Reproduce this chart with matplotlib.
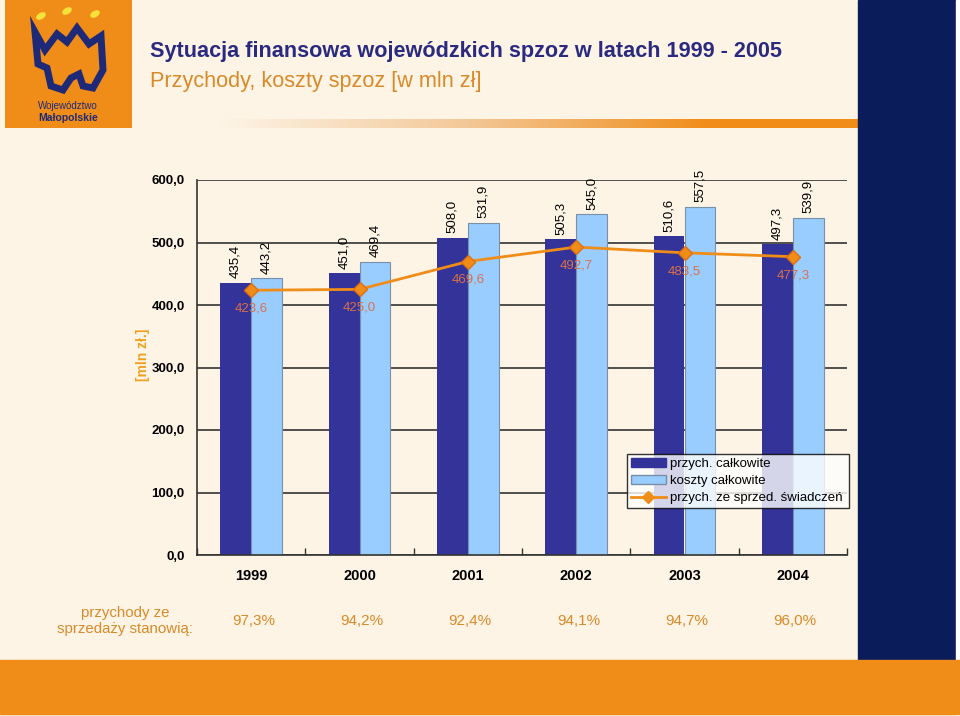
import matplotlib.pyplot as plt
import matplotlib.patches as patches
import numpy as np
from matplotlib.lines import Line2D
from matplotlib.colors import LinearSegmentedColormap

plt.rcParams['font.family'] = ['Liberation Sans', 'DejaVu Sans']

years = ['1999', '2000', '2001', '2002', '2003', '2004']
przych_calk = [435.4, 451.0, 508.0, 505.3, 510.6, 497.3]
koszty_calk = [443.2, 469.4, 531.9, 545.0, 557.5, 539.9]
przych_sprzed = [423.6, 425.0, 469.6, 492.7, 483.5, 477.3]
udzial = ['97,3%', '94,2%', '92,4%', '94,1%', '94,7%', '96,0%']

cream = '#FDF4E6'
navy = '#0A1C5A'
orange = '#F08C18'
txt_orange = '#D98A28'

fig = plt.figure(figsize=(9.6, 7.16), dpi=100)
fig.patch.set_facecolor(cream)

# decorations: navy stripe, bottom band, gradient line, logo
fig.patches.append(patches.Rectangle((858/960, 1-660/716), 98/960, 660/716,
                   transform=fig.transFigure, color=navy, zorder=0))
fig.patches.append(patches.Rectangle((956/960, 0), 4/960, 1,
                   transform=fig.transFigure, color='white', zorder=0))
fig.patches.append(patches.Rectangle((0, 2/716), 1, 54/716,
                   transform=fig.transFigure, color=orange, zorder=1))
grad_ax = fig.add_axes([220/960, 1-128/716, 736/960, 9/716])
grad = np.linspace(0, 1, 256).reshape(1, -1)
cm = LinearSegmentedColormap.from_list('g', [cream, '#F3C898', orange, orange])
grad_ax.imshow(grad, aspect='auto', cmap=cm)
grad_ax.axis('off')

logo = fig.add_axes([5/960, 1-128/716, 127/960, 128/716])
logo.set_xlim(0, 127)
logo.set_ylim(0, 128)
logo.axis('off')
logo.add_patch(patches.Rectangle((0, 0), 127, 128, color=orange))
crown_x = [30, 40, 52, 62, 72, 84, 96, 98, 88, 78, 74, 66, 58, 46, 42, 33]
crown_y = [96, 78, 94, 86, 100, 84, 92, 58, 40, 42, 54, 50, 38, 42, 60, 64]
logo.add_patch(patches.Polygon(list(zip(crown_x, crown_y)), closed=True,
                               fill=False, ec='#1E2A78', lw=5))
for dx, dy in [(36, 112), (62, 117), (90, 114)]:
    logo.add_patch(patches.Ellipse((dx, dy), 9, 5, angle=30, color='#F6E23A'))
logo.text(63, 22, 'Województwo', ha='center', va='center', fontsize=7, color='#1E2A78')
logo.text(63, 10, 'Małopolskie', ha='center', va='center', fontsize=7.5,
          color='#1E2A78', fontweight='bold')

fig.text(150/960, 1-52/716, 'Sytuacja finansowa wojewódzkich spzoz w latach 1999 - 2005',
         fontsize=15.6, fontweight='bold', color='#2A2A80', va='center')
fig.text(150/960, 1-82/716, 'Przychody, koszty spzoz [w mln zł]',
         fontsize=15.6, color=txt_orange, va='center')

# main chart
ax = fig.add_axes([197/960, 1-555/716, 650/960, 375/716])
ax.set_facecolor(cream)
x = np.arange(len(years))
w = 0.286
ax.bar(x - w/2, przych_calk, w, color='#333399', zorder=2)
ax.bar(x + w/2, koszty_calk, w, color='#99CCFF', edgecolor='#7A8FA8', lw=0.8, zorder=2)
ax.plot(x, przych_sprzed, color=orange, lw=2, marker='D', markersize=7,
        markerfacecolor=orange, markeredgecolor='#E07010', zorder=3)

for i in range(len(years)):
    ax.text(x[i] - w/2, przych_calk[i] + 7, f'{przych_calk[i]:.1f}'.replace('.', ','),
            rotation=90, ha='center', va='bottom', fontsize=9.5)
    ax.text(x[i] + w/2, koszty_calk[i] + 7, f'{koszty_calk[i]:.1f}'.replace('.', ','),
            rotation=90, ha='center', va='bottom', fontsize=9.5)
    ax.text(x[i], przych_sprzed[i] - 20, f'{przych_sprzed[i]:.1f}'.replace('.', ','),
            ha='center', va='top', fontsize=9.5, color='#D9704A', zorder=4)

ax.set_ylim(0, 600)
ax.set_xlim(-0.5, 5.5)
ax.set_yticks(range(0, 601, 100))
ax.set_yticklabels([f'{v},0' for v in range(0, 601, 100)], fontsize=9.5, fontweight='bold')
ax.yaxis.grid(True, color='#333333', lw=1.2, zorder=0)
ax.set_axisbelow(True)
ax.set_xticks(np.arange(-0.5, 6, 1))
ax.set_xticklabels([])
ax.tick_params(axis='x', direction='in', length=5, width=1, color='#333333')
ax.tick_params(axis='y', length=0, pad=9)
for i, y in enumerate(years):
    ax.text(x[i], -0.055, y, transform=ax.get_xaxis_transform(), ha='center', va='center',
            fontsize=10.5, fontweight='bold')
for s in ['top', 'right']:
    ax.spines[s].set_visible(False)
for s in ['left', 'bottom']:
    ax.spines[s].set_color('#333333')
    ax.spines[s].set_linewidth(1.2)

fig.text(143/960, 1-355/716, '[mln zł.]', rotation=90, ha='center', va='center',
         fontsize=10, fontweight='bold', color='#F0A020')

handles = [patches.Patch(facecolor='#333399', edgecolor='#333399'),
           patches.Patch(facecolor='#99CCFF', edgecolor='#7A8FA8'),
           Line2D([], [], color=orange, lw=2, marker='D', markersize=6,
                  markerfacecolor=orange)]
leg = ax.legend(handles, ['przych. całkowite', 'koszty całkowite',
                          'przych. ze sprzed. świadczeń'],
                loc='lower left', bbox_to_anchor=(0.662, 0.125, 0.341, 0.168),
                mode='expand', fontsize=9.5, frameon=True, fancybox=False,
                borderpad=0.3, labelspacing=0.35, handlelength=2.6, handletextpad=0.3,
                borderaxespad=0)
leg.get_frame().set_edgecolor('black')
leg.get_frame().set_facecolor('white')
leg.get_frame().set_linewidth(1)

# bottom percentages
fig.text(125/960, 1-621/716, 'przychody ze\nsprzedaży stanowią:', ha='center', va='center',
         fontsize=10.8, color=txt_orange, linespacing=1.1)
for i, p in enumerate(udzial):
    ax.text(x[i] + 0.02, -0.175, p, transform=ax.get_xaxis_transform(), ha='center',
            va='center', fontsize=11, color=txt_orange)

fig.savefig('out.png', dpi=100, facecolor=fig.get_facecolor())
